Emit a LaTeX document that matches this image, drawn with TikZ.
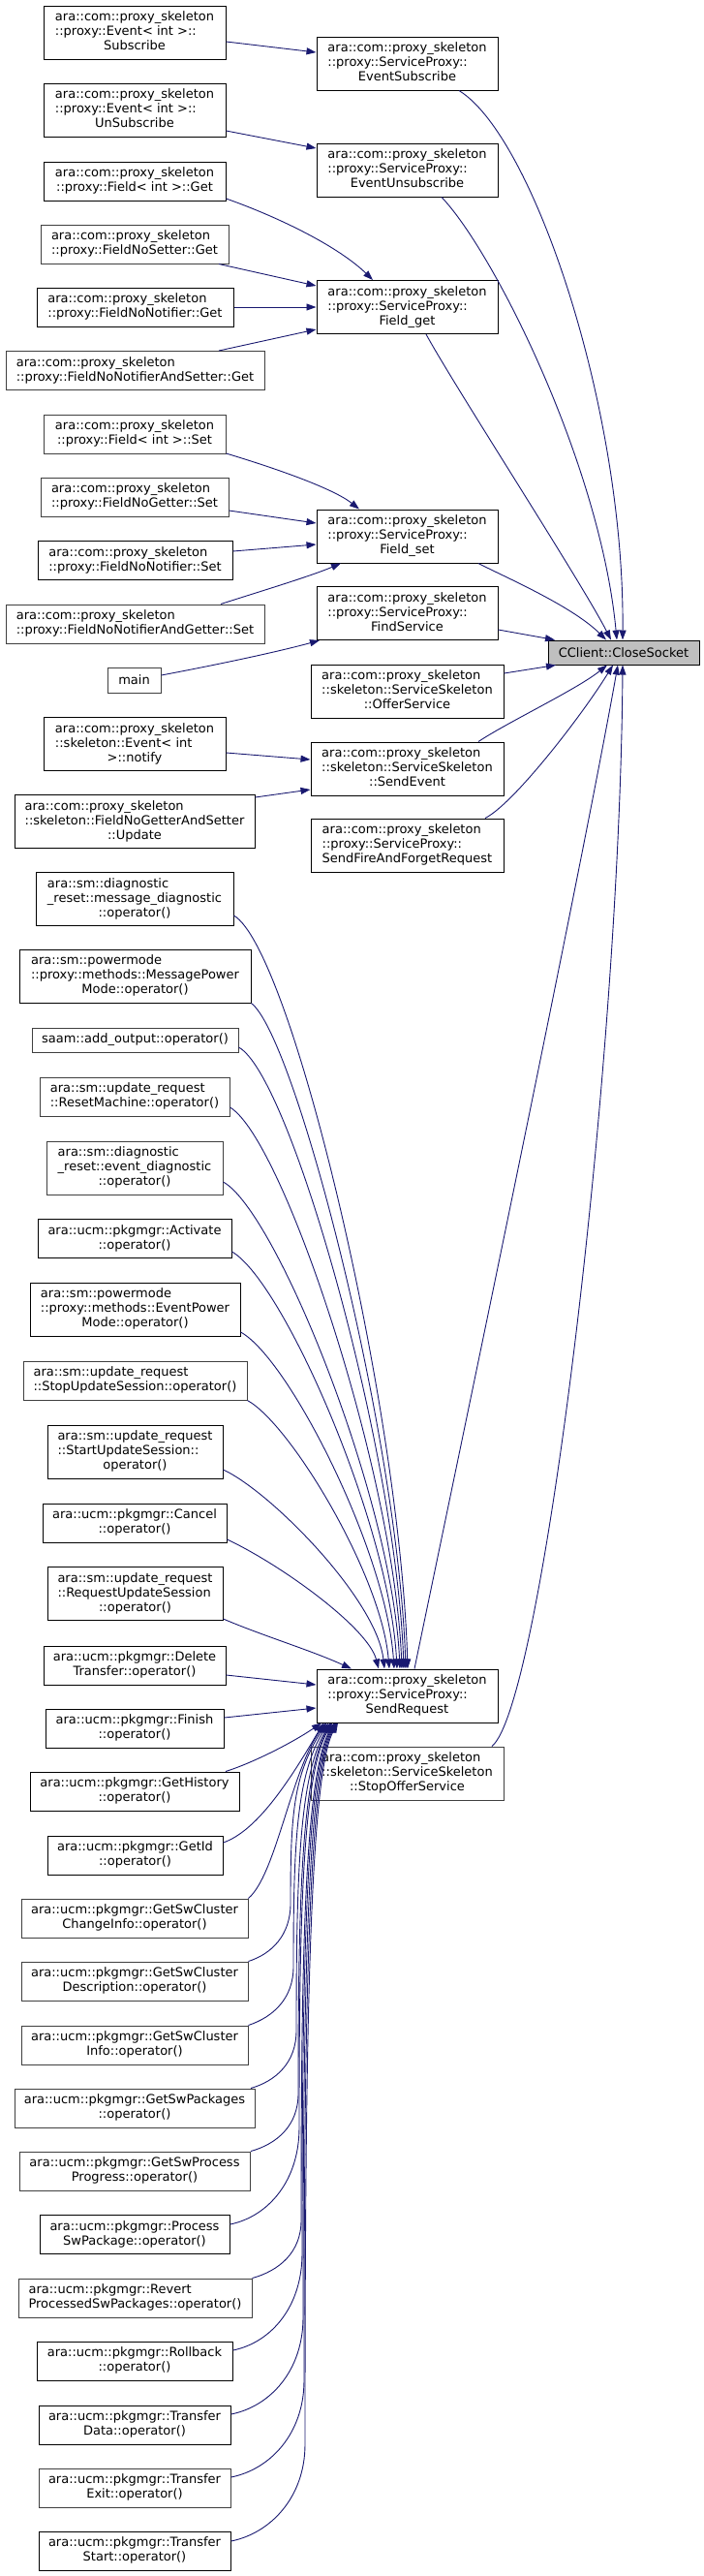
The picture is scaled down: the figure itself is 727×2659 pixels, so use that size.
\documentclass[tikz,border=0pt]{standalone}
\usepackage{fontspec}
\setmainfont{DejaVu Sans}
\usetikzlibrary{arrows.meta}
\definecolor{edgeblue}{HTML}{191970}
\definecolor{gbord}{HTML}{404040}
\definecolor{rootfill}{HTML}{BFBFBF}
\newcommand\Lb[2]{\begin{tabular}{@{}l@{}}#1\\\multicolumn{1}{@{}c@{}}{#2}\end{tabular}}
\begin{document}
\begin{tikzpicture}[x=1pt,y=-1pt,
  nd/.style={draw=black, fill=white, line width=1pt, inner sep=0pt, font=\fontsize{13}{15}\selectfont},
  gnd/.style={nd, draw=gbord},
  rootnd/.style={nd, fill=rootfill},
  edge/.style={draw=edgeblue, line width=0.9pt, -{Triangle[length=10pt,width=7pt]}}]
\useasboundingbox (0,0) rectangle (727,2659);
% ---- upper part
\node[nd, minimum width=188pt, minimum height=55pt] (sub) at (139,33.5) {\Lb{ara::com::proxy\_skeleton\\::proxy::Event< int >::}{Subscribe}};
\node[nd, minimum width=187pt, minimum height=55pt] (esub) at (420.5,65.5) {\Lb{ara::com::proxy\_skeleton\\::proxy::ServiceProxy::}{EventSubscribe}};
\node[nd, minimum width=188pt, minimum height=55pt] (unsub) at (139,113.5) {\Lb{ara::com::proxy\_skeleton\\::proxy::Event< int >::}{UnSubscribe}};
\node[nd, minimum width=187pt, minimum height=55pt] (eunsub) at (420.5,175.5) {\Lb{ara::com::proxy\_skeleton\\::proxy::ServiceProxy::}{EventUnsubscribe}};
\node[nd, minimum width=188pt, minimum height=40pt] (fget) at (139,187) {\Lb{ara::com::proxy\_skeleton}{::proxy::Field< int >::Get}};
\node[gnd, minimum width=194pt, minimum height=40pt] (fnsget) at (139,252) {\Lb{ara::com::proxy\_skeleton}{::proxy::FieldNoSetter::Get}};
\node[nd, minimum width=203pt, minimum height=40pt] (fnnget) at (139.5,317) {\Lb{ara::com::proxy\_skeleton}{::proxy::FieldNoNotifier::Get}};
\node[gnd, minimum width=267pt, minimum height=40pt] (fnnsget) at (139.5,382.5) {\Lb{ara::com::proxy\_skeleton}{::proxy::FieldNoNotifierAndSetter::Get}};
\node[nd, minimum width=187pt, minimum height=55pt] (fieldget) at (420.5,317) {\Lb{ara::com::proxy\_skeleton\\::proxy::ServiceProxy::}{Field\_get}};
\node[gnd, minimum width=188pt, minimum height=40pt] (fset) at (139,448) {\Lb{ara::com::proxy\_skeleton}{::proxy::Field< int >::Set}};
\node[gnd, minimum width=194pt, minimum height=40pt] (fngset) at (139,513) {\Lb{ara::com::proxy\_skeleton}{::proxy::FieldNoGetter::Set}};
\node[nd, minimum width=201pt, minimum height=40pt] (fnnset) at (139.5,578.5) {\Lb{ara::com::proxy\_skeleton}{::proxy::FieldNoNotifier::Set}};
\node[gnd, minimum width=267pt, minimum height=40pt] (fnngset) at (139.5,644) {\Lb{ara::com::proxy\_skeleton}{::proxy::FieldNoNotifierAndGetter::Set}};
\node[nd, minimum width=187pt, minimum height=55pt] (fieldset) at (420.5,553.5) {\Lb{ara::com::proxy\_skeleton\\::proxy::ServiceProxy::}{Field\_set}};
\node[nd, minimum width=187pt, minimum height=55pt] (find) at (420.5,633) {\Lb{ara::com::proxy\_skeleton\\::proxy::ServiceProxy::}{FindService}};
\node[gnd, minimum width=55pt, minimum height=26pt] (main) at (138.5,702) {main};
\node[rootnd, minimum width=156pt, minimum height=25pt] (cs) at (644,673.5) {CClient::CloseSocket};
\node[nd, minimum width=199pt, minimum height=55pt] (offer) at (420.5,713.5) {\Lb{ara::com::proxy\_skeleton\\::skeleton::ServiceSkeleton}{::OfferService}};
\node[nd, minimum width=188pt, minimum height=55pt] (notify) at (139,768) {\Lb{ara::com::proxy\_skeleton\\::skeleton::Event< int}{>::notify}};
\node[nd, minimum width=199pt, minimum height=55pt] (sendevent) at (420.5,793.5) {\Lb{ara::com::proxy\_skeleton\\::skeleton::ServiceSkeleton}{::SendEvent}};
\node[nd, minimum width=248pt, minimum height=55pt] (update) at (139,848) {\Lb{ara::com::proxy\_skeleton\\::skeleton::FieldNoGetterAndSetter}{::Update}};
\node[nd, minimum width=199pt, minimum height=55pt] (sffr) at (420.5,872.5) {\Lb{ara::com::proxy\_skeleton\\::proxy::ServiceProxy::}{SendFireAndForgetRequest}};
% ---- SendRequest callers
\node[nd, minimum width=204pt, minimum height=55pt] (md) at (139,928) {\Lb{ara::sm::diagnostic\\\_reset::message\_diagnostic}{::operator()}};
\node[nd, minimum width=239pt, minimum height=55pt] (mpm) at (139.5,1007.5) {\Lb{ara::sm::powermode\\::proxy::methods::MessagePower}{Mode::operator()}};
\node[gnd, minimum width=213pt, minimum height=25pt] (saam) at (139.5,1073.5) {saam::add\_output::operator()};
\node[gnd, minimum width=196pt, minimum height=40pt] (rm) at (139,1132) {\Lb{ara::sm::update\_request}{::ResetMachine::operator()}};
\node[gnd, minimum width=182pt, minimum height=55pt] (ed) at (139,1205.5) {\Lb{ara::sm::diagnostic\\\_reset::event\_diagnostic}{::operator()}};
\node[nd, minimum width=200pt, minimum height=40pt] (act) at (139,1278.5) {\Lb{ara::ucm::pkgmgr::Activate}{::operator()}};
\node[nd, minimum width=217pt, minimum height=55pt] (epm) at (139.5,1351.5) {\Lb{ara::sm::powermode\\::proxy::methods::EventPower}{Mode::operator()}};
\node[gnd, minimum width=231pt, minimum height=40pt] (sus) at (139.5,1425) {\Lb{ara::sm::update\_request}{::StopUpdateSession::operator()}};
\node[nd, minimum width=181pt, minimum height=55pt] (startus) at (139.5,1498.5) {\Lb{ara::sm::update\_request\\::StartUpdateSession::}{operator()}};
\node[nd, minimum width=190pt, minimum height=40pt] (cancel) at (139,1572) {\Lb{ara::ucm::pkgmgr::Cancel}{::operator()}};
\node[nd, minimum width=181pt, minimum height=55pt] (rus) at (139.5,1645) {\Lb{ara::sm::update\_request\\::RequestUpdateSession}{::operator()}};
\node[nd, minimum width=188pt, minimum height=40pt] (dt) at (139,1719) {\Lb{ara::ucm::pkgmgr::Delete}{Transfer::operator()}};
\node[nd, minimum width=184pt, minimum height=40pt] (fin) at (139,1784) {\Lb{ara::ucm::pkgmgr::Finish}{::operator()}};
\node[nd, minimum width=187pt, minimum height=55pt] (sr) at (420.5,1750.5) {\Lb{ara::com::proxy\_skeleton\\::proxy::ServiceProxy::}{SendRequest}};
\node[gnd, minimum width=199pt, minimum height=55pt] (soff) at (420.5,1830.5) {\Lb{ara::com::proxy\_skeleton\\::skeleton::ServiceSkeleton}{::StopOfferService}};
\node[nd, minimum width=216pt, minimum height=40pt] (gh) at (139,1849) {\Lb{ara::ucm::pkgmgr::GetHistory}{::operator()}};
\node[nd, minimum width=181pt, minimum height=40pt] (gid) at (139.5,1915) {\Lb{ara::ucm::pkgmgr::GetId}{::operator()}};
\node[gnd, minimum width=234pt, minimum height=40pt] (gscci) at (139,1980) {\Lb{ara::ucm::pkgmgr::GetSwCluster}{ChangeInfo::operator()}};
\node[gnd, minimum width=234pt, minimum height=40pt] (gscd) at (139,2045) {\Lb{ara::ucm::pkgmgr::GetSwCluster}{Description::operator()}};
\node[gnd, minimum width=234pt, minimum height=40pt] (gsci) at (139,2111) {\Lb{ara::ucm::pkgmgr::GetSwCluster}{Info::operator()}};
\node[gnd, minimum width=248pt, minimum height=40pt] (gsp) at (139,2176) {\Lb{ara::ucm::pkgmgr::GetSwPackages}{::operator()}};
\node[gnd, minimum width=238pt, minimum height=40pt] (gspp) at (139,2241) {\Lb{ara::ucm::pkgmgr::GetSwProcess}{Progress::operator()}};
\node[nd, minimum width=196pt, minimum height=40pt] (psp) at (139,2306.5) {\Lb{ara::ucm::pkgmgr::Process}{SwPackage::operator()}};
\node[gnd, minimum width=241pt, minimum height=40pt] (rev) at (139.5,2372) {\Lb{ara::ucm::pkgmgr::Revert}{ProcessedSwPackages::operator()}};
\node[nd, minimum width=202pt, minimum height=40pt] (rb) at (139,2437) {\Lb{ara::ucm::pkgmgr::Rollback}{::operator()}};
\node[nd, minimum width=198pt, minimum height=40pt] (td) at (139,2503) {\Lb{ara::ucm::pkgmgr::Transfer}{Data::operator()}};
\node[gnd, minimum width=198pt, minimum height=40pt] (te) at (139,2568) {\Lb{ara::ucm::pkgmgr::Transfer}{Exit::operator()}};
\node[nd, minimum width=198pt, minimum height=40pt] (ts) at (139,2633) {\Lb{ara::ucm::pkgmgr::Transfer}{Start::operator()}};
% ---- edges, upper part
\draw[edge] (sub.east |- 0,43) -- (esub.west |- 0,54);
\draw[edge] (unsub.east |- 0,135) -- (eunsub.west |- 0,153);
\draw[edge] (fget.east |- 0,205) .. controls (290,225) and (350,255) .. (fieldget.north -| 385,0);
\draw[edge] (fnsget.south -| 226,0) -- (fieldget.west |- 0,295);
\draw[edge] (fnnget.east) -- (fieldget.west);
\draw[edge] (fnnsget.north -| 226,0) -- (fieldget.west |- 0,340);
\draw[edge] (esub.south -| 474,0) .. controls (550,140) and (645,420) .. (cs.north -| 643,0);
\draw[edge] (eunsub.south -| 456,0) .. controls (510,260) and (620,480) .. (cs.north -| 637,0);
\draw[edge] (fieldget.south -| 440,0) .. controls (470,400) and (600,600) .. (cs.north -| 631,0);
\draw[edge] (fset.east |- 0,468) .. controls (290,485) and (345,505) .. (fieldset.north -| 371,0);
\draw[edge] (fngset.east |- 0,527) -- (fieldset.west |- 0,540);
\draw[edge] (fnnset.east |- 0,569) -- (fieldset.west |- 0,562);
\draw[edge] (fnngset.north -| 228,0) .. controls (270,610) and (320,595) .. (fieldset.south -| 352,0);
\draw[edge] (fieldset.south -| 494,0) .. controls (520,595) and (590,625) .. (cs.north -| 626,0);
\draw[edge] (find.east |- 0,650) -- (cs.north -| 573,0);
\draw[edge] (main.east |- 0,697) .. controls (230,685) and (290,672) .. (find.south -| 330,0);
\draw[edge] (offer.east |- 0,695) -- (cs.south -| 574,0);
\draw[edge] (sendevent.north -| 494,0) .. controls (525,745) and (595,712) .. (cs.south -| 627,0);
\draw[edge] (notify.east |- 0,777) -- (sendevent.west |- 0,784);
\draw[edge] (update.east |- 0,823) -- (sendevent.west |- 0,815);
\draw[edge] (sffr.north -| 501,0) .. controls (530,830) and (600,740) .. (cs.south -| 633,0);
\draw[edge] (sr.north -| 428,0) .. controls (470,1520) and (600,900) .. (cs.south -| 638,0);
\draw[edge] (soff.north -| 508,0) .. controls (560,1760) and (640,1100) .. (cs.south -| 643,0);
% ---- edges into SendRequest from above
\draw[edge] (md.east |- 0,945) .. controls (301,980) and (413,1451) .. (sr.north -| 421,0);
\draw[edge] (mpm.south east) .. controls (305,1070) and (411,1482) .. (sr.north -| 419,0);
\draw[edge] (saam.east |- 0,1081) .. controls (300,1110) and (409,1498) .. (sr.north -| 417,0);
\draw[edge] (rm.east |- 0,1143) .. controls (292,1175) and (407,1520) .. (sr.north -| 415,0);
\draw[edge] (ed.east |- 0,1220) .. controls (285,1250) and (405,1547) .. (sr.north -| 413,0);
\draw[edge] (act.east |- 0,1292) .. controls (292,1322) and (402,1572) .. (sr.north -| 410,0);
\draw[edge] (epm.east |- 0,1375) .. controls (298,1402) and (399,1601) .. (sr.north -| 407,0);
\draw[edge] (sus.south east) .. controls (300,1470) and (394,1626) .. (sr.north -| 402,0);
\draw[edge] (startus.east |- 0,1517) .. controls (280,1540) and (389,1651) .. (sr.north -| 397,0);
\draw[edge] (cancel.east |- 0,1589) .. controls (290,1615) and (380,1680) .. (sr.north -| 391,0);
\draw[edge] (rus.east |- 0,1671) .. controls (270,1688) and (320,1703) .. (sr.north -| 363,0);
\draw[edge] (dt.east |- 0,1729) -- (sr.west |- 0,1739);
\draw[edge] (fin.east |- 0,1773) -- (sr.west |- 0,1763);
% ---- edges into SendRequest from below
\draw[edge] (gh.north -| 233,0) .. controls (260,1820) and (300,1800) .. (sr.south -| 332,0);
\draw[edge] (gid.east |- 0,1902) .. controls (265,1890) and (298,1840) .. (sr.south -| 334,0);
\draw[edge] (gscci.north east) .. controls (285,1935) and (300,1830) .. (sr.south -| 336,0);
\draw[edge] (gscd.north east) .. controls (280,2017) and (300,1998) .. (300,1965) .. controls (300,1872) and (303,1833) .. (sr.south -| 337,0);
\draw[edge] (gsci.north east) .. controls (282,2082) and (303,2063) .. (303,2030) .. controls (303,1904) and (306,1833) .. (sr.south -| 339,0);
\draw[edge] (gsp.north -| 259,0) .. controls (285,2148) and (306,2129) .. (306,2096) .. controls (306,1937) and (309,1833) .. (sr.south -| 341,0);
\draw[edge] (gspp.north -| 259,0) .. controls (286,2213) and (308,2194) .. (308,2161) .. controls (308,1970) and (311,1833) .. (sr.south -| 342,0);
\draw[edge] (psp.east |- 0,2296) .. controls (277,2288) and (309,2251) .. (309,2196) .. controls (309,1987) and (312,1833) .. (sr.south -| 343,0);
\draw[edge] (rev.north east) .. controls (288,2344) and (311,2325) .. (311,2292) .. controls (311,2035) and (314,1833) .. (sr.south -| 345,0);
\draw[edge] (rb.east |- 0,2426) .. controls (280,2418) and (312,2381) .. (312,2326) .. controls (312,2052) and (315,1833) .. (sr.south -| 346,0);
\draw[edge] (td.east |- 0,2492) .. controls (279,2484) and (313,2447) .. (313,2392) .. controls (313,2085) and (316,1833) .. (sr.south -| 347,0);
\draw[edge] (te.east |- 0,2557) .. controls (279,2549) and (314,2512) .. (314,2457) .. controls (314,2117) and (317,1833) .. (sr.south -| 348,0);
\draw[edge] (ts.east |- 0,2623) .. controls (279,2615) and (315,2578) .. (315,2523) .. controls (315,2150) and (318,1833) .. (sr.south -| 349,0);
\end{tikzpicture}
\end{document}
